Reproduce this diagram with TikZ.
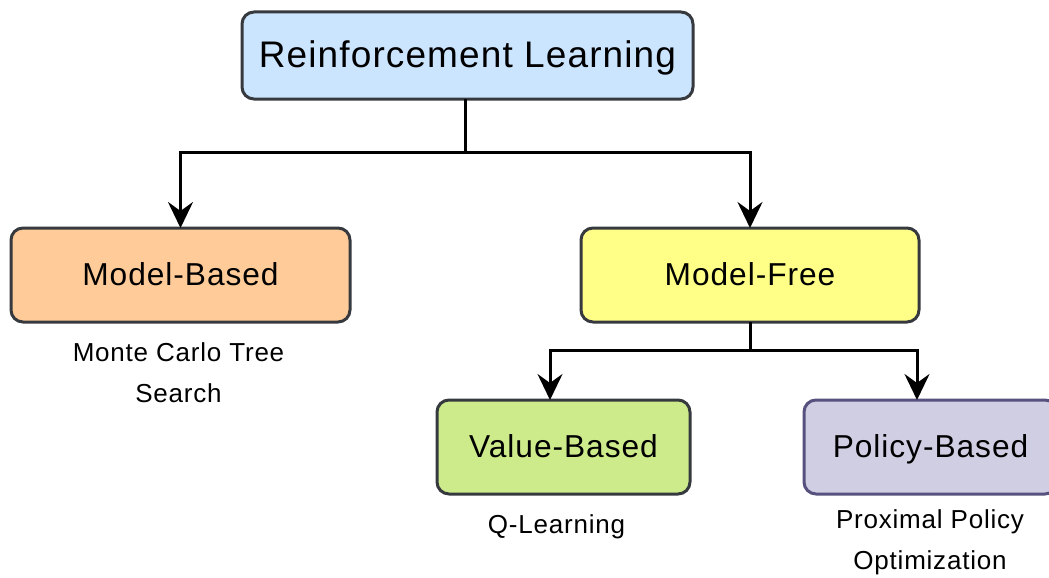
\documentclass[tikz,border=0pt]{standalone}
\usepackage{fontspec}
\setmainfont{Liberation Sans}[LetterSpace=3]
\usetikzlibrary{arrows.meta}
\definecolor{rlfill}{HTML}{CCE5FF}
\definecolor{mbfill}{HTML}{FFCC99}
\definecolor{mffill}{HTML}{FFFF88}
\definecolor{vbfill}{HTML}{CDEB8B}
\definecolor{pbfill}{HTML}{D0CEE2}
\definecolor{darkedge}{HTML}{36393D}
\definecolor{purpleedge}{HTML}{56517E}
\tikzset{
  box/.style={draw=darkedge, line width=3pt, rounded corners=12pt,
    inner sep=0pt, outer sep=0pt, align=center,
    text height=20pt, text depth=0pt,
    font=\fontsize{31.7}{38}\selectfont},
  note/.style={align=center, inner sep=0pt, anchor=base,
    font=\fontsize{26}{41}\selectfont},
  link/.style={line width=3pt, black},
  arrowlink/.style={link, -{Stealth[length=26pt,width=25pt,inset=9pt]}}
}
\begin{document}
\begin{tikzpicture}[x=1pt,y=-1pt]
  \useasboundingbox (0,0) rectangle (1049,578);

  % boxes
  \node[box, fill=rlfill, minimum width=451pt, minimum height=87pt,
        text height=23.6pt, font=\fontsize{37}{44}\selectfont] (rl) at (467.5,55.5) {Reinforcement Learning};
  \node[box, fill=mbfill, minimum width=339pt, minimum height=94pt] (mb) at (180.5,275) {Model-Based};
  \node[box, fill=mffill, minimum width=338pt, minimum height=94pt] (mf) at (750,275) {Model-Free};
  \node[box, fill=vbfill, minimum width=253pt, minimum height=94pt] (vb) at (563.5,447) {Value-Based};
  \node[box, fill=pbfill, draw=purpleedge, minimum width=253pt, minimum height=94pt] (pb) at (930.5,447) {Policy-Based};

  % example algorithms (base anchor sits on the last line)
  \node[note] (mcts) at (178.5,402) {Monte Carlo Tree\\Search};
  \node[note] (ql) at (556.5,533.5) {Q-Learning};
  \node[note] (ppo) at (930,569) {Proximal Policy\\Optimization};

  % tree connectors
  \coordinate (j1) at (465,152);
  \coordinate (j2) at (750,350);
  \coordinate (vbin) at (550,400);
  \coordinate (pbin) at (917,400);
  \draw[link] (rl.south -| j1) -- (j1);
  \draw[arrowlink] (j1) -| (mb.north);
  \draw[arrowlink] (j1) -| (mf.north);
  \draw[link] (mf.south) -- (j2);
  \draw[arrowlink] (j2) -| (vbin);
  \draw[arrowlink] (j2) -| (pbin);
\end{tikzpicture}
\end{document}
